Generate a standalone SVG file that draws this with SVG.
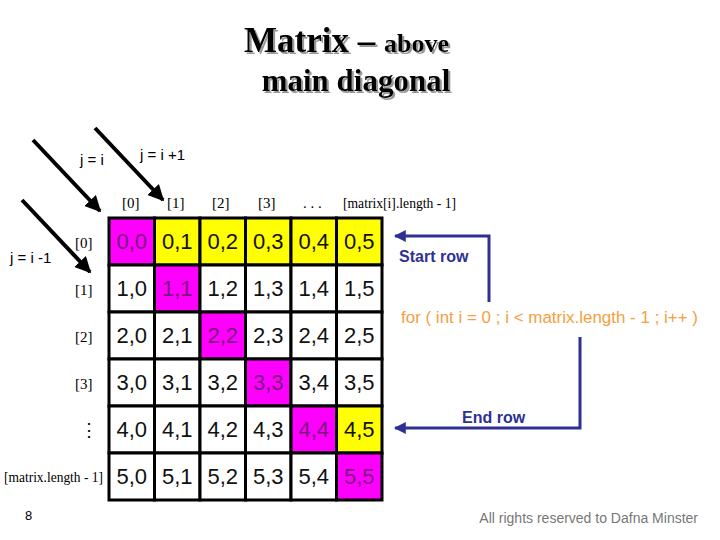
<svg xmlns="http://www.w3.org/2000/svg" width="720" height="540" viewBox="0 0 720 540">
<defs>
<marker id="ab" viewBox="0 0 10 10" refX="9" refY="5" markerWidth="4" markerHeight="4" orient="auto" markerUnits="strokeWidth"><path d="M0,0 L10,5 L0,10 z" fill="#000"/></marker>
<marker id="an" viewBox="0 0 10 10" refX="9" refY="5" markerWidth="4" markerHeight="4" orient="auto" markerUnits="strokeWidth"><path d="M0,0 L10,5 L0,10 z" fill="#2E3192"/></marker>
<filter id="sh" x="-10%" y="-10%" width="130%" height="140%"><feDropShadow dx="2" dy="2" stdDeviation="0.6" flood-color="#999"/></filter>
</defs>
<style>
.t{font-family:"Liberation Serif",serif;font-weight:bold;fill:#000}
.s{font-family:"Liberation Sans",sans-serif}
.hd{font-family:"Liberation Serif",serif;font-size:15px;fill:#000}
.c rect{stroke:#000;stroke-width:3}
.w{fill:#fff}.p{fill:#FF00FF}.y{fill:#FFFF00}
.c text{font-family:"Liberation Sans",sans-serif;font-size:22px;text-anchor:middle;fill:#111}
.c text.pt{fill:#7A1A7A}
.lbl{font-family:"Liberation Sans",sans-serif;font-size:15px;fill:#000}
</style>
<rect width="720" height="540" fill="#fff"/>
<g id="title" filter="url(#sh)">
<text class="t" x="244" y="52"><tspan font-size="35">Matrix – </tspan><tspan font-size="26">above</tspan></text>
<text class="t" x="356" y="91" text-anchor="middle" font-size="31">main diagonal</text>
</g>
<g id="connectors" stroke-linecap="butt">
<line x1="33" y1="140" x2="100" y2="211" stroke="#000" stroke-width="4" marker-end="url(#ab)"/>
<line x1="95" y1="128" x2="163" y2="200" stroke="#000" stroke-width="4" marker-end="url(#ab)"/>
<line x1="22" y1="200" x2="90" y2="272" stroke="#000" stroke-width="4" marker-end="url(#ab)"/>
<polyline points="489,302 489,236 395,236" fill="none" stroke="#2E3192" stroke-width="3" marker-end="url(#an)"/>
<polyline points="580,337 580,428 395,428" fill="none" stroke="#2E3192" stroke-width="3" marker-end="url(#an)"/>
</g>
<g id="diag-labels">
<text class="lbl" x="80" y="165">j = i</text>
<text class="lbl" x="140" y="160">j = i +1</text>
<text class="lbl" x="10" y="263">j = i -1</text>
</g>
<g id="col-headers" class="hd">
<text x="122" y="208">[0]</text>
<text x="167" y="208">[1]</text>
<text x="212" y="208">[2]</text>
<text x="258" y="208">[3]</text>
<text x="303" y="208">. . .</text>
<text x="343" y="208" textLength="113" lengthAdjust="spacingAndGlyphs">[matrix[i].length - 1]</text>
</g>
<g id="row-headers" class="hd">
<text x="75" y="248">[0]</text>
<text x="75" y="295">[1]</text>
<text x="75" y="342">[2]</text>
<text x="75" y="389">[3]</text>
<text x="80" y="436" font-size="18">⋮</text>
<text x="4" y="482" font-size="14" textLength="99" lengthAdjust="spacingAndGlyphs">[matrix.length - 1]</text>
</g>
<g id="matrix" class="c">
<rect class="p" x="109" y="218" width="45.5" height="47"/><text class="pt" x="131.8" y="249">0,0</text>
<rect class="y" x="154.5" y="218" width="45.5" height="47"/><text x="177.3" y="249">0,1</text>
<rect class="y" x="200" y="218" width="45.5" height="47"/><text x="222.8" y="249">0,2</text>
<rect class="y" x="245.5" y="218" width="45.5" height="47"/><text x="268.3" y="249">0,3</text>
<rect class="y" x="291" y="218" width="45.5" height="47"/><text x="313.8" y="249">0,4</text>
<rect class="y" x="336.5" y="218" width="45.5" height="47"/><text x="359.3" y="249">0,5</text>

<rect class="w" x="109" y="265" width="45.5" height="47"/><text x="131.8" y="296">1,0</text>
<rect class="p" x="154.5" y="265" width="45.5" height="47"/><text class="pt" x="177.3" y="296">1,1</text>
<rect class="w" x="200" y="265" width="45.5" height="47"/><text x="222.8" y="296">1,2</text>
<rect class="w" x="245.5" y="265" width="45.5" height="47"/><text x="268.3" y="296">1,3</text>
<rect class="w" x="291" y="265" width="45.5" height="47"/><text x="313.8" y="296">1,4</text>
<rect class="w" x="336.5" y="265" width="45.5" height="47"/><text x="359.3" y="296">1,5</text>

<rect class="w" x="109" y="312" width="45.5" height="47"/><text x="131.8" y="343">2,0</text>
<rect class="w" x="154.5" y="312" width="45.5" height="47"/><text x="177.3" y="343">2,1</text>
<rect class="p" x="200" y="312" width="45.5" height="47"/><text class="pt" x="222.8" y="343">2,2</text>
<rect class="w" x="245.5" y="312" width="45.5" height="47"/><text x="268.3" y="343">2,3</text>
<rect class="w" x="291" y="312" width="45.5" height="47"/><text x="313.8" y="343">2,4</text>
<rect class="w" x="336.5" y="312" width="45.5" height="47"/><text x="359.3" y="343">2,5</text>

<rect class="w" x="109" y="359" width="45.5" height="47"/><text x="131.8" y="390">3,0</text>
<rect class="w" x="154.5" y="359" width="45.5" height="47"/><text x="177.3" y="390">3,1</text>
<rect class="w" x="200" y="359" width="45.5" height="47"/><text x="222.8" y="390">3,2</text>
<rect class="p" x="245.5" y="359" width="45.5" height="47"/><text class="pt" x="268.3" y="390">3,3</text>
<rect class="w" x="291" y="359" width="45.5" height="47"/><text x="313.8" y="390">3,4</text>
<rect class="w" x="336.5" y="359" width="45.5" height="47"/><text x="359.3" y="390">3,5</text>

<rect class="w" x="109" y="406" width="45.5" height="47"/><text x="131.8" y="437">4,0</text>
<rect class="w" x="154.5" y="406" width="45.5" height="47"/><text x="177.3" y="437">4,1</text>
<rect class="w" x="200" y="406" width="45.5" height="47"/><text x="222.8" y="437">4,2</text>
<rect class="w" x="245.5" y="406" width="45.5" height="47"/><text x="268.3" y="437">4,3</text>
<rect class="p" x="291" y="406" width="45.5" height="47"/><text class="pt" x="313.8" y="437">4,4</text>
<rect class="y" x="336.5" y="406" width="45.5" height="47"/><text x="359.3" y="437">4,5</text>

<rect class="w" x="109" y="453" width="45.5" height="47"/><text x="131.8" y="484">5,0</text>
<rect class="w" x="154.5" y="453" width="45.5" height="47"/><text x="177.3" y="484">5,1</text>
<rect class="w" x="200" y="453" width="45.5" height="47"/><text x="222.8" y="484">5,2</text>
<rect class="w" x="245.5" y="453" width="45.5" height="47"/><text x="268.3" y="484">5,3</text>
<rect class="w" x="291" y="453" width="45.5" height="47"/><text x="313.8" y="484">5,4</text>
<rect class="p" x="336.5" y="453" width="45.5" height="47"/><text class="pt" x="359.3" y="484">5,5</text>
</g>
<g id="loop">
<text class="s" x="399" y="262" font-size="16" font-weight="bold" fill="#2E3192">Start row</text>
<text class="s" x="401" y="323" font-size="16" fill="#F4A040" textLength="297" lengthAdjust="spacingAndGlyphs">for ( int i = 0 ; i &lt; matrix.length - 1 ; i++ )</text>
<text class="s" x="462" y="423" font-size="16" font-weight="bold" fill="#2E3192">End row</text>
</g>
<g id="footer">
<text class="s" x="25" y="520" font-size="13" fill="#000">8</text>
<text class="s" x="698" y="523" font-size="14" fill="#777" text-anchor="end">All rights reserved to Dafna Minster</text>
</g>
</svg>
